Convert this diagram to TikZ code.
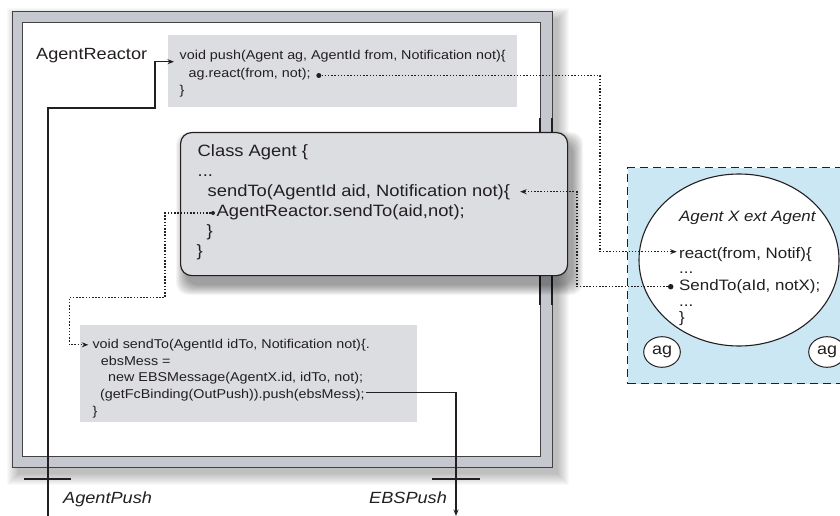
\documentclass[tikz,border=0pt]{standalone}
\usepackage{fontspec}
\setmainfont{Liberation Sans}[FakeStretch=1.12]
\usetikzlibrary{arrows.meta,calc,shapes.geometric}
\definecolor{ink}{HTML}{231F20}
\definecolor{frameband}{HTML}{C5C8CF}
\definecolor{codefill}{HTML}{DCDDE1}
\definecolor{agentblue}{HTML}{CBE7F3}
\tikzset{
  codetxt/.style={anchor=base west, inner sep=0pt, text=ink, font=\fontsize{12.8}{15}\selectfont},
  classtxt/.style={anchor=base west, inner sep=0pt, text=ink, font=\fontsize{16.4}{19}\selectfont},
  elltxt/.style={anchor=base west, inner sep=0pt, text=ink, font=\fontsize{15.1}{18}\selectfont},
  lbltxt/.style={anchor=base west, inner sep=0pt, text=ink, font=\fontsize{16.2}{19}\selectfont},
  codebox/.style={fill=codefill, anchor=north west, inner sep=0pt, outer sep=0pt},
  dotline/.style={draw=ink, line width=1.1pt, dash pattern=on 1.5pt off 1.7pt},
  solidline/.style={draw=ink, line width=1.2pt},
  tipA/.style={-{Stealth[length=6.5pt,width=5pt]}},
  blob/.style={circle, fill=ink, inner sep=0pt, minimum size=#1},
  blob/.default=5pt,
  agcircle/.style={ellipse, draw=ink, line width=1pt, fill=white, minimum width=36.6pt, minimum height=30.6pt, inner sep=0pt, text=ink, font=\fontsize{16}{18}\selectfont},
}
\begin{document}
\begin{tikzpicture}[x=1pt,y=-1pt]
\useasboundingbox (0,0) rectangle (840,516);
% ---------- outer component frame ----------
\foreach \k in {0,...,11}{
  \fill[black,opacity=0.024] (18-\k,19-\k) rectangle (558+\k,474+\k);
}
\fill[frameband] (12,12) rectangle (552,467);
\draw[ink!85, line width=1pt] (12,12) rectangle (552,467);
\fill[white] (22,23) rectangle (540,456);
\draw[ink!85, line width=1pt] (22,23) rectangle (540,456);
\draw[ink, line width=1.8pt] (540,118) -- (540,305) (552,118) -- (552,305);

% ---------- push box ----------
\node[codebox, minimum width=349pt, minimum height=72pt] (pushbox) at (168,35) {};
\node[codetxt] (push1) at (179.5,59.5) {void push(Agent ag, AgentId from, Notification not)\{};
\node[codetxt] (push2) at (188.5,78) {ag.react(from, not);};
\node[codetxt] (push3) at (179.5,95) {\}};
\node[blob] (pushdot) at ($(push2.base east)+(8,-2.5)$) {};

\node[lbltxt] (reactor) at (36,60) {AgentReactor};

% ---------- class Agent box ----------
\foreach \k in {0,...,10}{
  \fill[black,opacity=0.04,rounded corners=12pt] (186-\k,142-\k) rectangle (573+\k,285+\k);
}
\node[draw=ink, line width=1.2pt, fill=codefill, rounded corners=11pt, anchor=north west,
      minimum width=387pt, minimum height=143pt, inner sep=0pt] (classbox) at (180,132) {};
\node[classtxt] (cl1) at (197.5,156.5) {Class Agent \{};
\node[classtxt] (cl2) at (197.5,176.5) {...};
\node[classtxt] (cl3) at (207.5,196.5) {sendTo(AgentId aid, Notification not)\{};
\node[classtxt] (cl4) at (216.5,216.5) {AgentReactor.sendTo(aid,not);};
\node[classtxt] (cl5) at (206.5,236.5) {\}};
\node[classtxt] (cl6) at (196.5,256.5) {\}};
\node[blob=4pt] (cdot) at ($(cl4.base west)+(-3.5,-3.5)$) {};
\coordinate (sendin) at ($(cl3.base east)+(10,-4.8)$);

% ---------- sendTo box ----------
\node[codebox, minimum width=337pt, minimum height=97pt] (sendbox) at (80,325) {};
\node[codetxt] (st1) at (92.3,348.3) {void sendTo(AgentId idTo, Notification not)\{.};
\node[codetxt] (st2) at (100.7,365) {ebsMess =};
\node[codetxt] (st3) at (108,381.7) {new EBSMessage(AgentX.id, idTo, not);};
\node[codetxt] (st4) at (100,398.3) {(getFcBinding(OutPush)).push(ebsMess);};
\node[codetxt] (st5) at (92.3,415) {\}};
\coordinate (sendtoin) at ($(st1.base west)+(-4,-3.5)$);

% ---------- Agent X area ----------
\node[fill=agentblue, draw=ink, line width=1.1pt, dash pattern=on 8pt off 5pt, anchor=north west,
      minimum width=240pt, minimum height=216pt, inner sep=0pt] (agentarea) at (627,167) {};
\node[ellipse, draw=ink, line width=1.1pt, fill=white, minimum width=200pt, minimum height=172pt,
      inner sep=0pt] (agentx) at (739,260) {};
\node[elltxt, font=\fontsize{15.1}{18}\selectfont\itshape] (e1) at (679,221) {Agent X ext Agent};
\node[elltxt] (e2) at (679,258.3) {react(from, Notif)\{};
\node[elltxt] (e3) at (679,273.5) {...};
\node[elltxt] (e4) at (679,290) {SendTo(aId, notX);};
\node[elltxt] (e5) at (679,306.5) {...};
\node[elltxt] (e6) at (679,322) {\}};
\node[blob=5.5pt] (sdot) at ($(e4.base west)+(-8.3,-3.3)$) {};
\coordinate (reactin) at ($(e2.base west)+(-2.3,-6.6)$);
\node[agcircle] (ag1) at (662,352) {ag};
\node[agcircle] (ag2) at (827,352) {ag};

% ---------- dotted connectors ----------
\coordinate (jx1) at (600,0);
\draw[dotline, tipA] (pushdot) -| (jx1 |- reactin) -- (reactin);
\coordinate (jx2) at (577,0);
\draw[dotline, tipA] (sdot) -| (jx2 |- sendin) -- (sendin);
\coordinate (jx3) at (165,297.3);
\coordinate (jx4) at (69.3,0);
\draw[dotline, tipA] (cdot) -| (jx3) -| (jx4 |- sendtoin) -- (sendtoin);

% ---------- solid port connectors ----------
\coordinate (apbot) at (48,520);
\coordinate (apbend) at (155,108);
\coordinate (pushin) at (174,61.7);
\draw[solidline, tipA] (apbot) |- (apbend) |- (pushin);
\coordinate (ebsstart) at ($(st4.base east)+(1,-5.5)$);
\coordinate (ebsbot) at (456,516);
\draw[solidline, tipA] (ebsstart) -| (ebsbot);

% ports
\coordinate (ap1) at (24,479);
\coordinate (ap2) at (71,479);
\coordinate (eb1) at (432,479);
\coordinate (eb2) at (480,479);
\draw[ink, line width=2.8pt] (ap1) -- (ap2) (eb1) -- (eb2);
\node[lbltxt, font=\fontsize{16.2}{19}\selectfont\itshape] (aplabel) at (63,503) {AgentPush};
\node[lbltxt, font=\fontsize{16.2}{19}\selectfont\itshape] (eblabel) at (369,503) {EBSPush};
\end{tikzpicture}
\end{document}
